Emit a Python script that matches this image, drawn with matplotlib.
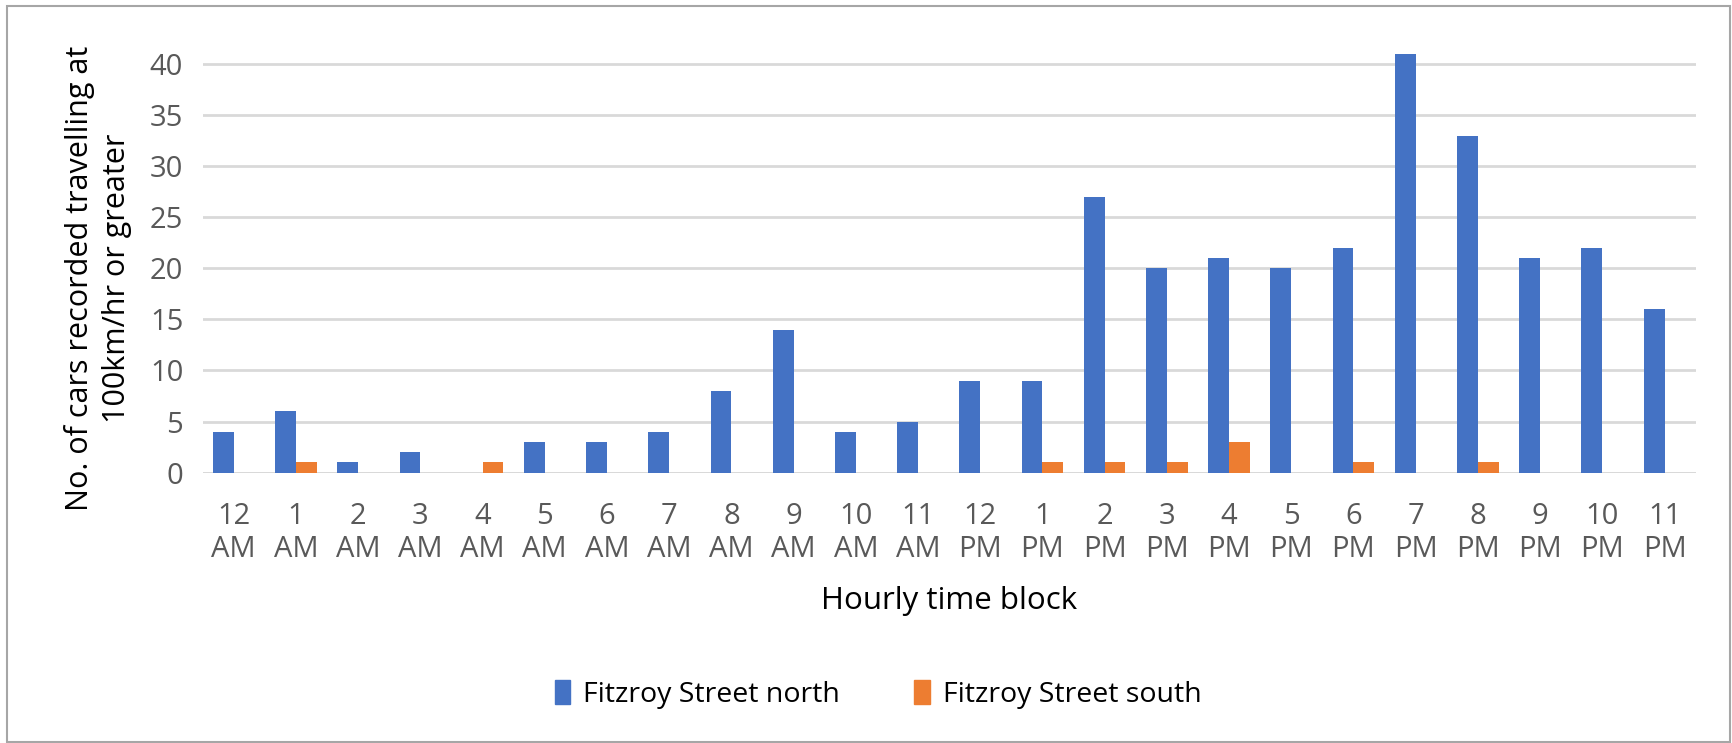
import numpy as np
import matplotlib.pyplot as plt
from matplotlib.patches import Rectangle, Patch

plt.rcParams['font.family'] = ['Open Sans', 'DejaVu Sans']

hours = ["12\nAM", "1\nAM", "2\nAM", "3\nAM", "4\nAM", "5\nAM", "6\nAM", "7\nAM",
         "8\nAM", "9\nAM", "10\nAM", "11\nAM", "12\nPM", "1\nPM", "2\nPM", "3\nPM",
         "4\nPM", "5\nPM", "6\nPM", "7\nPM", "8\nPM", "9\nPM", "10\nPM", "11\nPM"]
north = [4, 6, 1, 2, 0, 3, 3, 4, 8, 14, 4, 5, 9, 9, 27, 20, 21, 20, 22, 41, 33, 21, 22, 16]
south = [0, 1, 0, 0, 1, 0, 0, 0, 0, 0, 0, 0, 0, 1, 1, 1, 3, 0, 1, 0, 1, 0, 0, 0]

blue = "#4472c4"
orange = "#ed7d31"
grey = "#595959"

fig = plt.figure(figsize=(17.32, 7.43), dpi=100)
ax = fig.add_axes([0.117, 0.364, 0.862, 0.577])

x = np.arange(len(hours))
w = 0.335
ax.bar(x - w / 2, north, w, color=blue, zorder=3)
ax.bar(x + w / 2, south, w, color=orange, zorder=3)

ax.set_xlim(-0.5, len(hours) - 0.5)
ax.set_ylim(0, 42)
ax.set_yticks(range(0, 41, 5))
ax.yaxis.grid(True, color="#d9d9d9", linewidth=2, zorder=0)
for s in ax.spines.values():
    s.set_visible(False)
ax.axhline(0, color="#d9d9d9", linewidth=2, zorder=2)

ax.set_xticks(x)
ax.set_xticklabels(hours, linespacing=1.2)
ax.tick_params(axis='both', length=0, labelsize=21, colors=grey)
ax.tick_params(axis='y', pad=14)
ax.tick_params(axis='x', pad=21)

ax.set_xlabel("Hourly time block", fontsize=22.5, labelpad=16)
fig.text(0.0566, 0.626, "No. of cars recorded travelling at\n100km/hr or greater",
         rotation=90, ha='center', va='center', fontsize=22, linespacing=1.3)

handles = [Patch(color=blue), Patch(color=orange)]
fig.legend(handles, ["Fitzroy Street north", "Fitzroy Street south"],
           loc='center', bbox_to_anchor=(0.507, 0.065), ncol=2, frameon=False,
           fontsize=20.5, handlelength=0.55, handleheight=0.9, columnspacing=2.6,
           handletextpad=0.45)

fig.patches.append(Rectangle((0.004, 0.0015), 0.995, 0.991, transform=fig.transFigure,
                             fill=False, edgecolor="#a6a6a6", linewidth=1.5))

fig.savefig("out.png", dpi=100)
